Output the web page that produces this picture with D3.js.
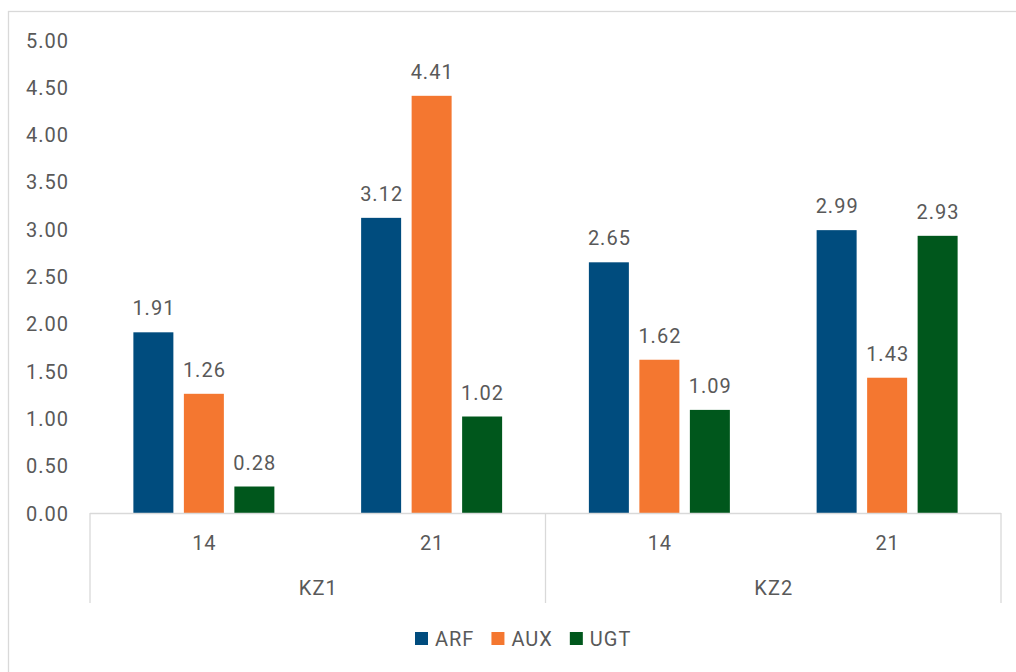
<!DOCTYPE html>
<html>
<head>
<meta charset="utf-8">
<script src="https://cdn.jsdelivr.net/npm/d3@7"></script>
<style>
  html, body { margin: 0; padding: 0; background: #fff; }
  svg { display: block; }
  text { font-family: Roboto, "Liberation Sans", Arial, sans-serif; fill: #595959; letter-spacing: 1px; }
</style>
</head>
<body>
<svg id="chart" width="1016" height="672"></svg>
<script>
// Outer groups, inner day labels and the three gene families
const groups = ["KZ1", "KZ2"];
const days = ["14", "21"];
const series = ["ARF", "AUX", "UGT"];
const colors = ["#004C7E", "#F47730", "#00571C"];

// Relative expression per series, ordered KZ1-14, KZ1-21, KZ2-14, KZ2-21
const ARF = [1.91, 3.12, 2.65, 2.99];
const AUX = [1.26, 4.41, 1.62, 1.43];
const UGT = [0.28, 1.02, 1.09, 2.93];

const yTicks = [0, 0.5, 1, 1.5, 2, 2.5, 3, 3.5, 4, 4.5, 5];

const values = { ARF, AUX, UGT };
const cats = [];
groups.forEach(g => days.forEach(d => cats.push({ group: g, day: d, key: g + "-" + d })));

const svg = d3.select("#chart");
const plotLeft = 90, plotRight = 1001, plotTop = 40, base = 513;
const fs = 20;

// Chart frame
svg.append("rect")
  .attr("x", 8.5).attr("y", 11.5)
  .attr("width", 1040).attr("height", 700)
  .attr("fill", "none").attr("stroke", "#d9d9d9").attr("stroke-width", 1.3);

const y = d3.scaleLinear().domain([0, 5]).range([base, plotTop]);
const x0 = d3.scaleBand().domain(cats.map(c => c.key)).range([plotLeft, plotRight]).padding(0);
const x1 = d3.scaleBand().domain(series).range([0, x0.bandwidth()])
  .paddingInner(0.208).paddingOuter(0.859);
const xg = d3.scaleBand().domain(groups).range([plotLeft, plotRight]).padding(0);

// Y axis labels (no axis line, no gridlines)
const yAxis = d3.axisLeft(y).tickValues(yTicks).tickFormat(d3.format(".2f")).tickSize(0).tickPadding(0);
const ya = svg.append("g").attr("transform", "translate(69,0)").call(yAxis);
ya.select(".domain").remove();
ya.selectAll("text").attr("font-size", fs).attr("fill", "#595959")
  .style("font-family", "Roboto, 'Liberation Sans', Arial, sans-serif").attr("dy", "0.35em");

// Bars
const barG = svg.append("g");
cats.forEach((c, i) => {
  series.forEach((s, j) => {
    const v = values[s][i];
    const bx = x0(c.key) + x1(s);
    barG.append("rect")
      .attr("x", bx).attr("y", y(v))
      .attr("width", x1.bandwidth()).attr("height", base - y(v))
      .attr("fill", colors[j]);
    barG.append("text")
      .attr("x", bx + x1.bandwidth() / 2 + 0.5).attr("y", y(v) - 17)
      .attr("text-anchor", "middle").attr("font-size", fs)
      .text(v.toFixed(2));
  });
});

// Category axis: baseline, group separators and two label levels
const axisG = svg.append("g").attr("stroke", "#d9d9d9").attr("stroke-width", 1.3);
axisG.append("line").attr("x1", plotLeft).attr("x2", plotRight).attr("y1", base + 0.5).attr("y2", base + 0.5);
const seps = [plotLeft, xg("KZ2"), plotRight];
seps.forEach(sx => axisG.append("line")
  .attr("x1", sx).attr("x2", sx).attr("y1", base).attr("y2", 603));

cats.forEach(c => {
  svg.append("text")
    .attr("x", x0(c.key) + x0.bandwidth() / 2 + 0.5).attr("y", 550)
    .attr("text-anchor", "middle").attr("font-size", fs).text(c.day);
});
groups.forEach(g => {
  svg.append("text")
    .attr("x", xg(g) + xg.bandwidth() / 2 + 0.5).attr("y", 595)
    .attr("text-anchor", "middle").attr("font-size", fs).text(g);
});

// Legend
const legend = svg.append("g");
let lx = 415;
series.forEach((s, j) => {
  legend.append("rect").attr("x", lx).attr("y", 632).attr("width", 13).attr("height", 13).attr("fill", colors[j]);
  const t = legend.append("text").attr("x", lx + 20).attr("y", 645.5).attr("font-size", fs).text(s);
  const w = t.node().getComputedTextLength();
  lx = lx + 20 + w + 17;
});
</script>
</body>
</html>
